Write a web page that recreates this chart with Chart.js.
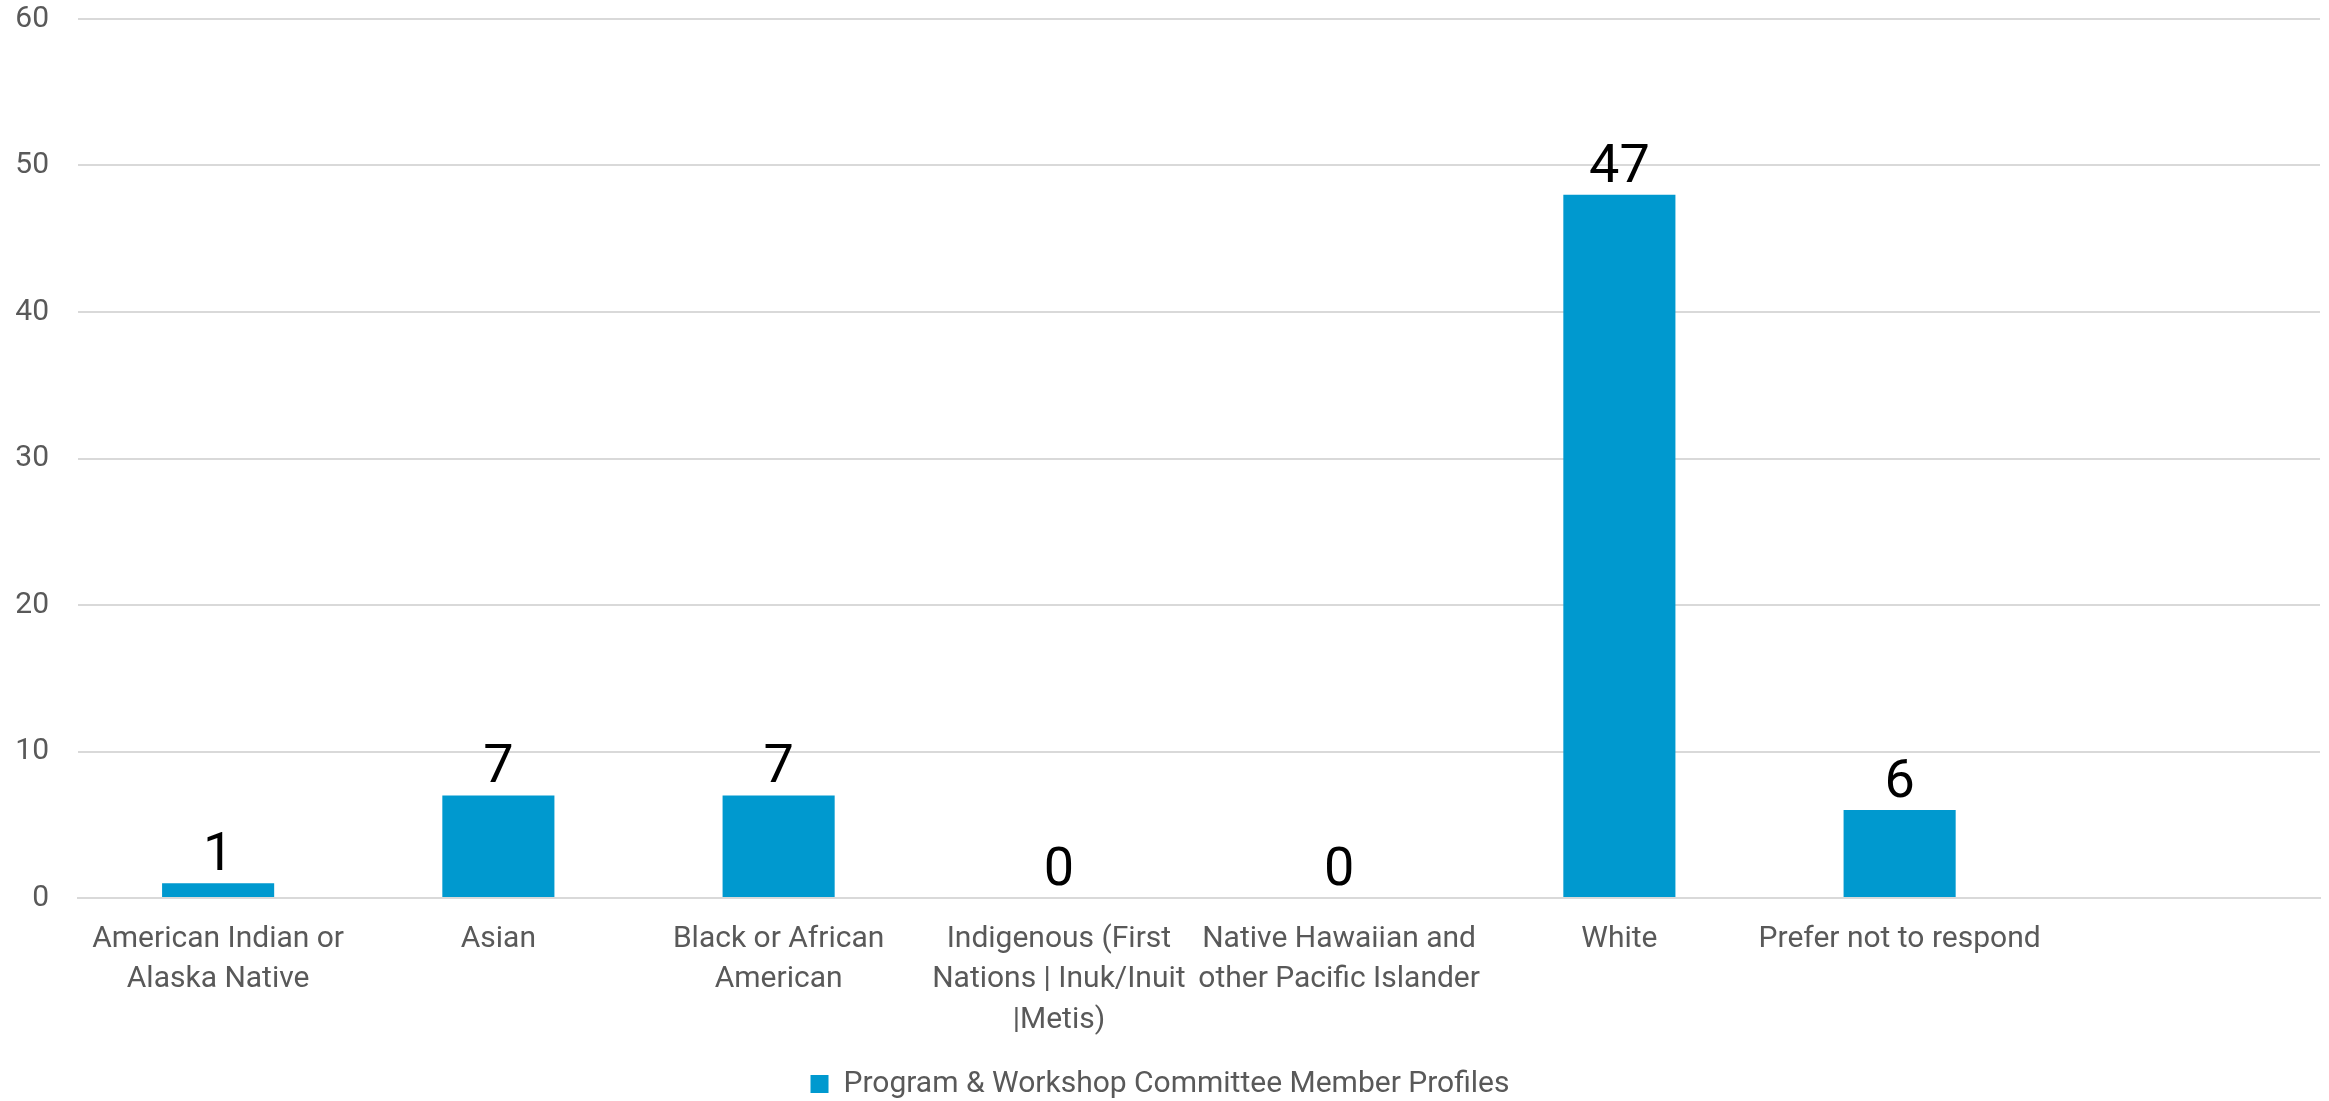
<!DOCTYPE html>
<html>
<head>
<meta charset="utf-8">
<title>Committee Member Profiles</title>
<script src="https://cdn.jsdelivr.net/npm/chart.js@4.4.1/dist/chart.umd.min.js"></script>
<style>
  html, body { margin: 0; padding: 0; background: #fff; }
  #wrap { width: 2329px; height: 1101px; }
</style>
</head>
<body>
<div id="wrap"><canvas id="chart" width="2329" height="1101"></canvas></div>
<script>
// categories (line breaks as in the original axis labels; last slot is empty)
const categories = [
  ['American Indian or', 'Alaska Native'],
  'Asian',
  ['Black or African', 'American'],
  ['Indigenous (First', 'Nations | Inuk/Inuit', '|Metis)'],
  ['Native Hawaiian and', 'other Pacific Islander'],
  'White',
  'Prefer not to respond',
  ''
];
const seriesName = 'Program & Workshop Committee Member Profiles';
const values = [1, 7, 7, 0, 0, 48, 6, null];
// data labels as printed on the chart
const valueLabels = ['1', '7', '7', '0', '0', '47', '6', ''];
const yTicks = [0, 10, 20, 30, 40, 50, 60];

const FONT = "'Liberation Sans Narrow', 'Roboto', sans-serif";
const GREY = '#595959';
const GRID = '#d9d9d9';
const BLUE = '#0099cf';

// value labels above each bar
const barLabels = {
  id: 'barLabels',
  afterDatasetsDraw(chart) {
    const { ctx } = chart;
    const meta = chart.getDatasetMeta(0);
    ctx.save();
    ctx.font = `54px ${FONT}`;
    ctx.fillStyle = '#000';
    ctx.textAlign = 'center';
    ctx.textBaseline = 'alphabetic';
    meta.data.forEach((bar, i) => {
      if (!valueLabels[i]) return;
      ctx.fillText(valueLabels[i], bar.x, bar.y - 13);
    });
    ctx.restore();
  }
};

new Chart(document.getElementById('chart'), {
  type: 'bar',
  data: {
    labels: categories,
    datasets: [{
      label: seriesName,
      data: values,
      backgroundColor: BLUE,
      borderWidth: 0,
      categoryPercentage: 1,
      barPercentage: 0.4
    }]
  },
  options: {
    responsive: false,
    animation: false,
    layout: { padding: { top: 19, right: 9, left: 0, bottom: -8 } },
    plugins: {
      legend: {
        position: 'bottom',
        labels: {
          color: GREY,
          font: { family: FONT, size: 30 },
          boxWidth: 18,
          boxHeight: 18,
          padding: 10
        }
      },
      tooltip: { enabled: false }
    },
    scales: {
      x: {
        grid: { display: false },
        border: { display: true, color: GRID, width: 2 },
        ticks: {
          color: GREY,
          font: { family: FONT, size: 30, lineHeight: 1.35 },
          autoSkip: false,
          maxRotation: 0,
          padding: 13
        },
        afterFit: s => { s.height = 1101 + 8 - 897 - 51; }
      },
      y: {
        min: 0,
        max: 60,
        afterBuildTicks: s => { s.ticks = yTicks.map(v => ({ value: v })); },
        // invisible tick marks give the label gap without padding the top
        grid: { color: GRID, lineWidth: 2, drawTicks: true, tickLength: 29, tickColor: 'rgba(0,0,0,0)' },
        border: { display: false },
        ticks: {
          color: GREY,
          font: { family: FONT, size: 30 },
          padding: 0
        },
        afterFit: s => { s.width = 78; }
      }
    }
  },
  plugins: [barLabels]
});
</script>
</body>
</html>
